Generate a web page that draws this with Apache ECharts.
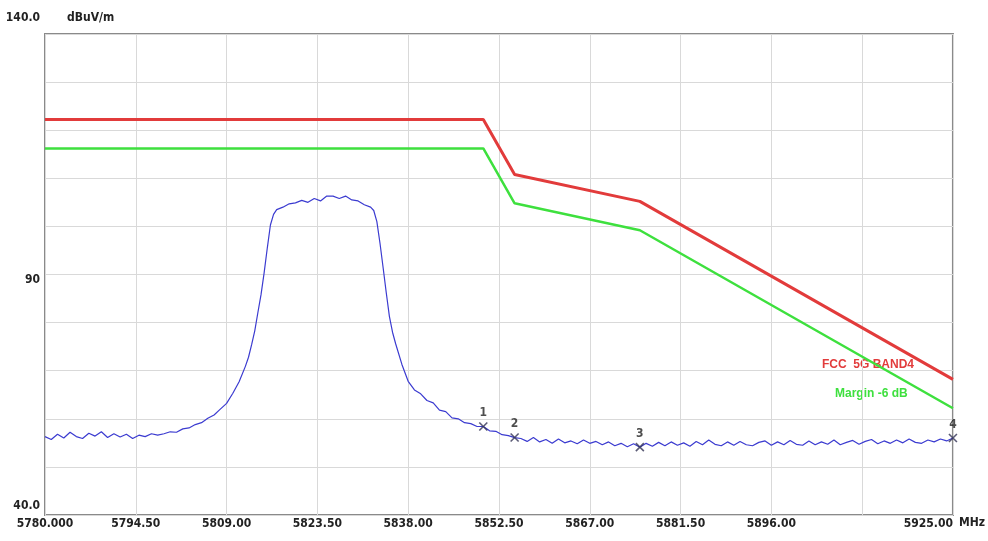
<!DOCTYPE html>
<html>
<head>
<meta charset="utf-8">
<script src="https://cdn.jsdelivr.net/npm/echarts@6/dist/echarts.min.js"></script>
<style>
  html, body { margin: 0; padding: 0; background: #fff; }
  #main { width: 988px; height: 541px; }
</style>
</head>
<body>
<div id="main"></div>
<script>
// axis ticks
var xTicks = [5780, 5794.5, 5809, 5823.5, 5838, 5852.5, 5867, 5881.5, 5896, 5910.5, 5925];
var yTicks = [40, 90, 140];

// FCC limit line and the -6 dB margin line (MHz, dBuV/m)
var limitFreq = [5780, 5850, 5855, 5875, 5925];
var limitLevel = [122.2, 122.2, 110.8, 105.2, 68.2];
var marginLevel = [116.2, 116.2, 104.8, 99.2, 62.2];

var traceFreq = [
  5780, 5781, 5782, 5783, 5784, 5785, 5786, 5787, 5788, 5789, 5790, 5791, 5792, 5793, 5794, 5795, 5796, 5797, 5798,
  5799, 5800, 5801, 5802, 5803, 5804, 5805, 5806, 5807, 5808, 5809, 5810, 5811, 5812, 5812.5, 5813, 5813.5,
  5814, 5814.5, 5815, 5815.5, 5816, 5816.5, 5817, 5818, 5819, 5820, 5821, 5822, 5823, 5824, 5825, 5826, 5827,
  5828, 5829, 5830, 5831, 5832, 5832.5, 5833, 5833.5, 5834, 5834.5, 5835, 5835.5, 5836, 5837, 5838, 5839, 5840,
  5841, 5842, 5843, 5844, 5845, 5846, 5847, 5848, 5849, 5850, 5851, 5852, 5853, 5854, 5855,
  5856, 5857, 5858, 5859, 5860, 5861, 5862, 5863, 5864, 5865, 5866, 5867, 5868, 5869, 5870, 5871, 5872, 5873,
  5874, 5875, 5876, 5877, 5878, 5879, 5880, 5881, 5882, 5883, 5884, 5885, 5886, 5887, 5888, 5889, 5890, 5891,
  5892, 5893, 5894, 5895, 5896, 5897, 5898, 5899, 5900, 5901, 5902, 5903, 5904, 5905, 5906, 5907, 5908, 5909,
  5910, 5911, 5912, 5913, 5914, 5915, 5916, 5917, 5918, 5919, 5920, 5921, 5922, 5923, 5924, 5925
];
var traceLevel = [
  56.3, 55.7, 56.8, 56.0, 57.2, 56.3, 55.9, 57.0, 56.4, 57.3, 56.1, 56.9, 56.2, 56.8, 55.9, 56.6, 56.3, 56.9, 56.6,
  56.9, 57.3, 57.2, 57.9, 58.1, 58.8, 59.2, 60.1, 60.8, 62.0, 63.2, 65.3, 67.7, 70.9, 72.8, 75.4, 78.3,
  82.1, 85.8, 90.4, 95.5, 100.3, 102.5, 103.5, 104.0, 104.7, 104.9, 105.4, 105.0, 105.8, 105.3, 106.3, 106.3, 105.8,
  106.3, 105.5, 105.3, 104.5, 104.0, 103.3, 101.0, 96.5, 91.4, 86.2, 81.3, 78.0, 75.6, 71.3, 67.8, 66.0, 65.2,
  63.8, 63.3, 61.8, 61.5, 60.2, 60.0, 59.2, 59.0, 58.4, 58.4, 57.5, 57.4, 56.7, 56.5, 56.1,
  55.9, 55.3, 56.1, 55.2, 55.7, 54.9, 55.8, 55.0, 55.4, 54.8, 55.6, 54.9, 55.3, 54.6, 55.2, 54.4, 54.9, 54.2,
  54.8, 54.1, 54.9, 54.3, 55.1, 54.4, 55.2, 54.5, 55.0, 54.3, 55.3, 54.6, 55.6, 54.7, 54.4, 55.2, 54.5, 55.3,
  54.6, 54.4, 55.1, 55.4, 54.5, 55.2, 54.6, 55.5, 54.7, 54.5, 55.4, 54.6, 55.2, 54.7, 55.6, 54.6, 55.1, 55.5,
  54.7, 55.3, 55.7, 54.8, 55.4, 54.9, 55.6, 55.0, 55.8, 55.1, 54.9, 55.6, 55.2, 55.8, 55.4, 56.0
];

// markers 1..4
var markerFreq = [5850, 5855, 5875, 5925];

var chart = echarts.init(document.getElementById('main'));

function pairs(xs, ys) {
  return xs.map(function (x, i) { return [x, ys[i]]; });
}

var markerData = markerFreq.map(function (f, i) {
  var k = traceFreq.indexOf(f);
  return { value: [f, traceLevel[k]], label: { formatter: String(i + 1) } };
});

var font = '"Liberation Sans Narrow", "DejaVu Sans Condensed", "Liberation Sans", sans-serif';
var wideFont = '"Liberation Sans", Arial, sans-serif';

var option = {
  animation: false,
  backgroundColor: '#fff',
  textStyle: { fontFamily: font },
  grid: {
    left: 45, right: 31, top: 34, bottom: 26,
    show: true, borderColor: '#8a8a8a', borderWidth: 2, backgroundColor: '#fff'
  },
  xAxis: {
    type: 'value',
    min: 5780, max: 5925, interval: 14.5,
    name: 'MHz', nameLocation: 'end', nameGap: 6,
    nameTextStyle: { color: '#222', fontSize: 12, fontWeight: 'bold', fontFamily: font, verticalAlign: 'top', padding: [2, 0, 0, 0] },
    axisLine: { show: false },
    axisTick: { show: false },
    splitLine: { show: true, lineStyle: { color: '#d9d9d9', width: 1 } },
    axisLabel: {
      color: '#222', fontSize: 12, fontWeight: 'bold', fontFamily: font, margin: 3,
      showMinLabel: true, showMaxLabel: true, alignMaxLabel: 'right',
      formatter: function (v) {
        if (v === 5780) return '5780.000';
        if (Math.abs(v - 5910.5) < 0.01) return '';
        var t = xTicks.filter(function (x) { return Math.abs(x - v) < 0.01; })[0];
        return t === undefined ? '' : t.toFixed(2);
      }
    }
  },
  yAxis: {
    type: 'value',
    min: 40, max: 140, interval: 10,
    name: 'dBuV/m', nameLocation: 'end', nameGap: 16,
    nameTextStyle: { color: '#222', fontSize: 12, fontWeight: 'bold', fontFamily: font, align: 'left', verticalAlign: 'middle', padding: [0, 0, 0, 22] },
    axisLine: { show: false },
    axisTick: { show: false },
    splitLine: { show: true, lineStyle: { color: '#d9d9d9', width: 1 } },
    axisLabel: {
      color: '#222', fontSize: 12, fontWeight: 'bold', fontFamily: font, margin: 5,
      formatter: function (v) {
        if (yTicks.indexOf(v) < 0) return '';
        if (v === 140) return '{top|140.0}';
        if (v === 40) return '{bot|40.0}';
        return '{mid|' + v + '}';
      },
      rich: {
        top: { fontWeight: 'bold', fontSize: 12, fontFamily: font, color: '#222', padding: [0, 0, 32, 0] },
        bot: { fontWeight: 'bold', fontSize: 12, fontFamily: font, color: '#222', padding: [0, 0, 18, 0] },
        mid: { fontWeight: 'bold', fontSize: 12, fontFamily: font, color: '#222', padding: [10, 0, 0, 0] }
      }
    }
  },
  series: [
    {
      name: 'FCC  5G BAND4',
      type: 'line',
      data: pairs(limitFreq, limitLevel),
      symbol: 'none',
      lineStyle: { color: '#e23b3b', width: 3 },
      z: 3
    },
    {
      name: 'Margin -6 dB',
      type: 'line',
      data: pairs(limitFreq, marginLevel),
      symbol: 'none',
      lineStyle: { color: '#3ee03e', width: 2.5 },
      z: 3
    },
    {
      name: 'trace',
      type: 'line',
      data: pairs(traceFreq, traceLevel),
      symbol: 'none',
      lineStyle: { color: '#3b3bd0', width: 1.2 },
      z: 4
    },
    {
      name: 'markers',
      type: 'scatter',
      data: markerData,
      symbol: 'path://M0,0 L10,10 M10,0 L0,10',
      symbolSize: 8,
      itemStyle: { color: 'none', borderColor: '#333355', borderWidth: 1.6 },
      label: { show: true, position: 'top', distance: 1, color: '#222', fontSize: 12, fontWeight: 'bold', fontFamily: font },
      z: 5
    }
  ],
  graphic: [
    { type: 'text', left: 822, top: 359, style: { text: 'FCC  5G BAND4', fill: '#e23b3b', fontSize: 12, fontWeight: 'bold', fontFamily: wideFont } },
    { type: 'text', left: 835, top: 388, style: { text: 'Margin -6 dB', fill: '#3ee03e', fontSize: 12, fontWeight: 'bold', fontFamily: wideFont } }
  ]
};

chart.setOption(option);
</script>
</body>
</html>
